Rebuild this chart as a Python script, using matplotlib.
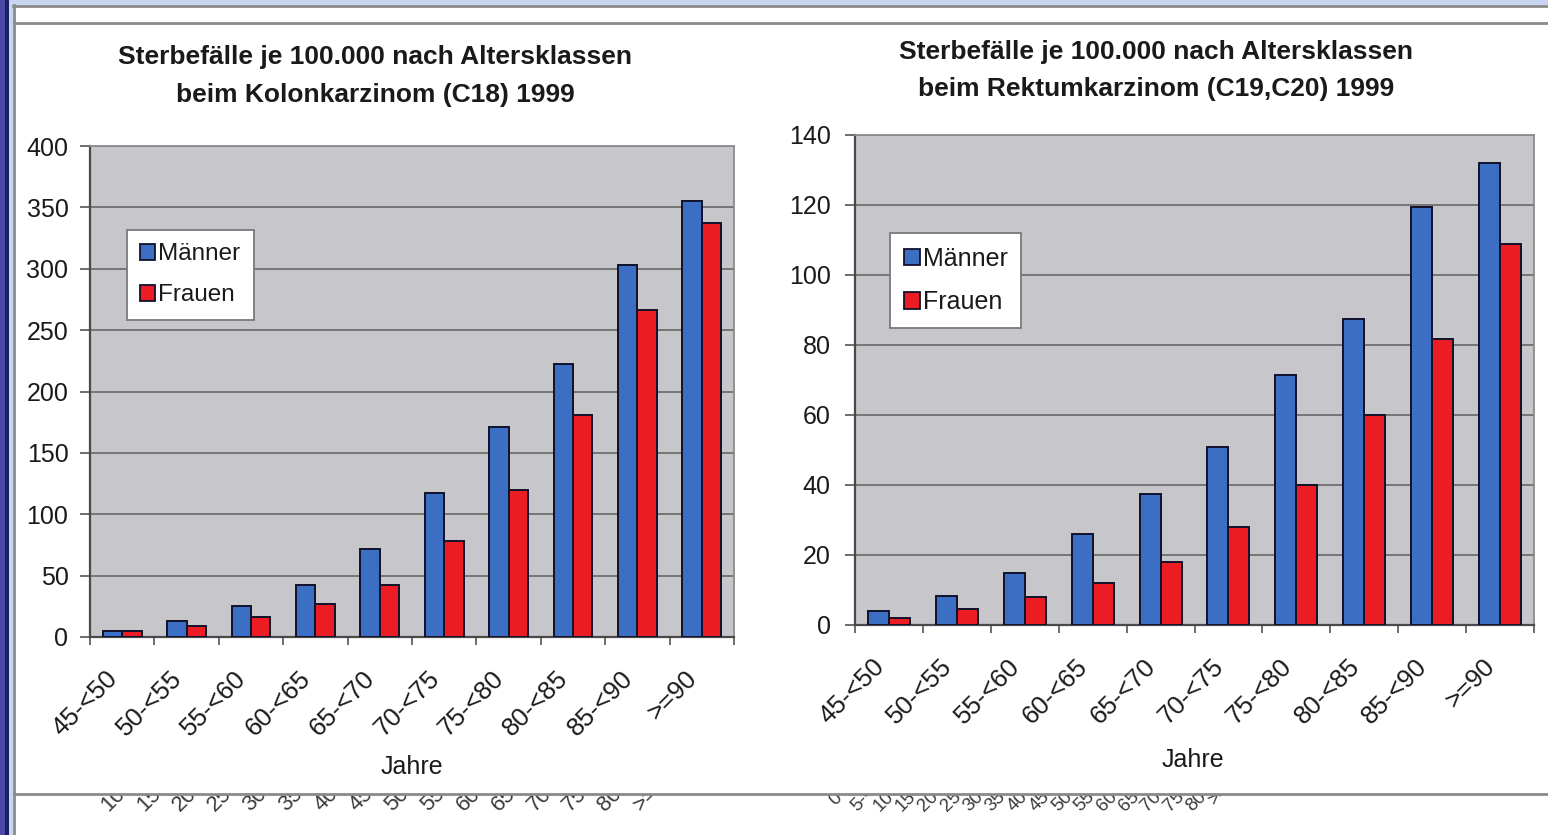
import matplotlib
matplotlib.use("Agg")
import matplotlib.pyplot as plt
from matplotlib.patches import Rectangle, Patch
from matplotlib.lines import Line2D
from matplotlib.transforms import ScaledTranslation
import numpy as np

# ---------------- data ----------------
categories = ["45-<50", "50-<55", "55-<60", "60-<65", "65-<70",
              "70-<75", "75-<80", "80-<85", "85-<90", ">=90"]
series_labels = ["Männer", "Frauen"]

kolon_maenner = [5, 13, 25, 42, 72, 117, 171, 222, 303, 355]
kolon_frauen = [5, 9, 16, 27, 42, 78, 120, 181, 266, 337]

rektum_maenner = [4, 8.3, 15, 26, 37.5, 51, 71.5, 87.5, 119.5, 132]
rektum_frauen = [2, 4.5, 8, 12, 18, 28, 40, 60, 81.7, 109]

kolon_title = ["Sterbefälle je 100.000 nach Altersklassen",
               "beim Kolonkarzinom (C18) 1999"]
rektum_title = ["Sterbefälle je 100.000 nach Altersklassen",
                "beim Rektumkarzinom (C19,C20) 1999"]
kolon_yticks = [0, 50, 100, 150, 200, 250, 300, 350, 400]
rektum_yticks = [0, 20, 40, 60, 80, 100, 120, 140]
x_label = "Jahre"

# clipped fragments of labels of a chart hidden behind (screenshot artefact)
behind_left = ["10-<15", "15-<20", "20-<25", "25-<30", "30-<35", "35-<40",
               "40-<45", "45-<50", "50-<55", "55-<60", "60-<65", "65-<70",
               "70-<75", "75-<80", "80-<85", ">=85"]
behind_right = ["0-<5", "5-<10", "10-<15", "15-<20", "20-<25", "25-<30",
                "30-<35", "35-<40", "40-<45", "45-<50", "50-<55", "55-<60",
                "60-<65", "65-<70", "70-<75", "75-<80", "80-<85", ">=85"]

BLUE = "#3c6ec4"
RED = "#ec1c24"
PLOT_BG = "#c6c6cb"
GRID = "#6f6f6f"
FONT = "Liberation Sans"

W, H = 1548, 835
fig = plt.figure(figsize=(W / 100, H / 100), dpi=100)
fig.patch.set_facecolor("white")
plt.rcParams["font.family"] = [FONT, "DejaVu Sans"]


def fx(x):
    return x / W


def fy(y):
    return 1 - y / H


def frect(x0, y0, x1, y1, color, z=0):
    fig.add_artist(Rectangle((fx(x0), fy(y1)), fx(x1) - fx(x0), fy(y0) - fy(y1),
                             transform=fig.transFigure, facecolor=color,
                             edgecolor="none", zorder=z))


def fline(x0, y0, x1, y1, color="#8a8a8a", lw=2.0):
    fig.add_artist(Line2D([fx(x0), fx(x1)], [fy(y0), fy(y1)],
                          transform=fig.transFigure, color=color, lw=lw, zorder=5))


# ---------------- frame (screenshot border) ----------------
frect(0, 0, 5, H, "#4a4aa6", 1)
frect(5, 0, 8.5, H, "#1b2165", 1)
frect(8.5, 0, 13, H, "#c8d6f1", 1)
frect(8.5, 0, W, 5, "#c8d6f1", 1)
fline(13, 5.5, W, 5.5)
fline(14, 5, 14, H)
fline(14, 22.5, W, 22.5)
fline(14, 793.5, W, 793.5)


def draw_chart(rect_px, men, women, yticks, title_lines, title_x, title_ys,
               xlabel_pos, legend_anchor, legend_fs, ytick_pad, bar_w):
    x0, y0, x1, y1 = rect_px
    ax = fig.add_axes([fx(x0), fy(y1), fx(x1) - fx(x0), fy(y0) - fy(y1)])
    ax.set_facecolor(PLOT_BG)
    n = len(categories)
    x = np.arange(n)
    ax.bar(x - bar_w / 2, men, width=bar_w, color=BLUE, edgecolor="#10122a",
           linewidth=1.4, zorder=3)
    ax.bar(x + bar_w / 2, women, width=bar_w, color=RED, edgecolor="#10122a",
           linewidth=1.4, zorder=3)
    ax.set_xlim(-0.5, n - 0.5)
    ax.set_ylim(yticks[0], yticks[-1])
    ax.set_yticks(yticks)
    ax.set_yticklabels([str(v) for v in yticks])
    ax.yaxis.grid(True, color=GRID, linewidth=1.3)
    ax.set_axisbelow(True)
    ax.tick_params(axis="y", length=7.5, width=1.2, color="#555555",
                   labelsize=18, pad=ytick_pad, labelcolor="#1a1a1a")
    # category boundaries carry the tick marks, labels sit at centres
    ax.set_xticks(np.arange(-0.5, n, 1.0), minor=True)
    ax.set_xticks(x)
    ax.set_xticklabels(categories, rotation=45, ha="right", va="top",
                       rotation_mode="anchor", fontsize=18.5, color="#1a1a1a")
    ax.tick_params(axis="x", which="major", length=0, pad=21)
    ax.tick_params(axis="x", which="minor", length=6, width=1.2, color="#555555")
    off = ScaledTranslation(-17 / 100, 0, fig.dpi_scale_trans)
    for lab in ax.get_xticklabels():
        lab.set_transform(lab.get_transform() + off)
    for side in ["left", "bottom"]:
        ax.spines[side].set_color("#4a4a4a")
        ax.spines[side].set_linewidth(1.6)
    for side in ["top", "right"]:
        ax.spines[side].set_color("#8c8c8c")
        ax.spines[side].set_linewidth(1.3)
    handles = [Patch(facecolor=BLUE, edgecolor="#10122a", linewidth=1.3),
               Patch(facecolor=RED, edgecolor="#10122a", linewidth=1.3)]
    leg = ax.legend(handles, series_labels, loc="upper left",
                    bbox_to_anchor=legend_anchor, frameon=True, fancybox=False,
                    edgecolor="#7a7a7a", facecolor="white", framealpha=1,
                    fontsize=legend_fs, handlelength=0.62, handleheight=0.62,
                    handletextpad=0.12, labelspacing=0.78, borderpad=0.55,
                    borderaxespad=0)
    leg.get_frame().set_linewidth(1.3)
    for t in leg.get_texts():
        t.set_color("#1a1a1a")
    for line, yy in zip(title_lines, title_ys):
        fig.text(fx(title_x), fy(yy), line, ha="center", va="center",
                 fontsize=19, fontweight="bold", color="#1a1a1a")
    fig.text(fx(xlabel_pos[0]), fy(xlabel_pos[1]), x_label, ha="center",
             va="center", fontsize=18, color="#1a1a1a")
    return ax


draw_chart((90, 146, 734, 637), kolon_maenner, kolon_frauen, kolon_yticks,
           kolon_title, 375, (57, 95), (412, 767), (0.057, 0.829), 17.5, 8, 0.3)
draw_chart((855, 135, 1534, 625), rektum_maenner, rektum_frauen, rektum_yticks,
           rektum_title, 1156, (52, 89), (1193, 760), (0.052, 0.80), 18, 10, 0.31)

# ---------------- clipped artefact labels below the frame ----------------
art = fig.add_axes([fx(15), fy(H), fx(W) - fx(15), fy(794.5) - fy(H)])
art.set_xlim(15, W)
art.set_ylim(H, 794.5)
art.axis("off")
for i, s in enumerate(behind_left):
    art.text(112 + i * 35.5, 816, s, rotation=45, rotation_mode="anchor",
             ha="left", va="bottom", fontsize=16, color="#3a3a3a", clip_on=True)
for i, s in enumerate(behind_right):
    art.text(838 + i * 22.3, 815 - (6 if len(s) < 5 else 0), s, rotation=45,
             rotation_mode="anchor", ha="left", va="bottom", fontsize=13.5,
             color="#3a3a3a", clip_on=True)

fig.savefig("out.png", dpi=100, facecolor="white")
